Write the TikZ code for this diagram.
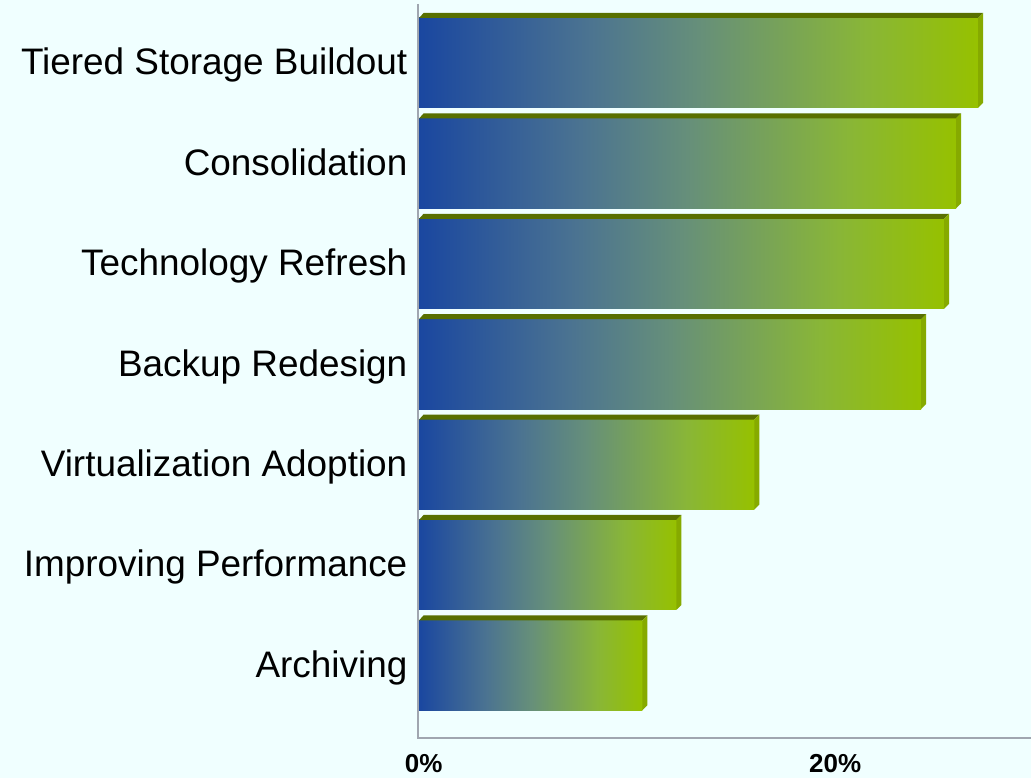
\documentclass[tikz,border=0pt]{standalone}
\usepackage{fontspec}
\setmainfont{Liberation Sans}
\usepackage{tikz}
\usetikzlibrary{positioning, calc}

\definecolor{bgcol}{RGB}{240,255,255}
\definecolor{axiscol}{RGB}{160,166,176}
\definecolor{barblue}{RGB}{26,71,160}
\definecolor{barsteel}{RGB}{75,115,145}
\definecolor{barteal}{RGB}{102,143,122}
\definecolor{barolive}{RGB}{137,182,55}
\definecolor{barlime}{RGB}{150,193,0}
\definecolor{bartopcol}{RGB}{88,112,0}
\definecolor{barsidecol}{RGB}{134,170,0}

% blue to lime, left to right
\pgfdeclarehorizontalshading{barshade}{100bp}{%
  color(0bp)=(barblue); color(25bp)=(barblue); color(40bp)=(barsteel);
  color(50bp)=(barteal); color(65bp)=(barolive); color(75bp)=(barlime);
  color(100bp)=(barlime)}

\tikzset{
  barfront/.style={shading=barshade, shading angle=0},
  bartop/.style={fill=bartopcol},
  barside/.style={fill=barsidecol},
  catlabel/.style={anchor=base east, inner sep=0pt, font=\fontsize{27.7}{32}\selectfont},
  pctlabel/.style={anchor=base, inner sep=0pt, font=\bfseries\fontsize{19.5}{23}\selectfont},
}

\begin{document}
\begin{tikzpicture}[x=0.75pt, y=0.75pt]
% background
\fill[bgcol] (-418,-40) rectangle (614,739);

% Tiered Storage Buildout
\shade[barfront] (1.5,631) rectangle (561,721);
\fill[bartop] (1.5,721) -- (6,726) -- (566,726) -- (561,721) -- cycle;
\fill[barside] (561,721) -- (566,726) -- (566,636) -- (561,631) -- cycle;
\node[catlabel] (lbl1) at (-10,664) {Tiered Storage Buildout};

% Consolidation
\shade[barfront] (1.5,530.5) rectangle (539,620.5);
\fill[bartop] (1.5,620.5) -- (6,625.5) -- (544,625.5) -- (539,620.5) -- cycle;
\fill[barside] (539,620.5) -- (544,625.5) -- (544,535.5) -- (539,530.5) -- cycle;
\node[catlabel] (lbl2) at (-10,563.5) {Consolidation};

% Technology Refresh
\shade[barfront] (1.5,430) rectangle (527,520);
\fill[bartop] (1.5,520) -- (6,525) -- (532,525) -- (527,520) -- cycle;
\fill[barside] (527,520) -- (532,525) -- (532,435) -- (527,430) -- cycle;
\node[catlabel] (lbl3) at (-10,463) {Technology Refresh};

% Backup Redesign
\shade[barfront] (1.5,329.5) rectangle (504,419.5);
\fill[bartop] (1.5,419.5) -- (6,424.5) -- (509,424.5) -- (504,419.5) -- cycle;
\fill[barside] (504,419.5) -- (509,424.5) -- (509,334.5) -- (504,329.5) -- cycle;
\node[catlabel] (lbl4) at (-10,362.5) {Backup Redesign};

% Virtualization Adoption
\shade[barfront] (1.5,229) rectangle (337,319);
\fill[bartop] (1.5,319) -- (6,324) -- (342,324) -- (337,319) -- cycle;
\fill[barside] (337,319) -- (342,324) -- (342,234) -- (337,229) -- cycle;
\node[catlabel] (lbl5) at (-10,262) {Virtualization Adoption};

% Improving Performance
\shade[barfront] (1.5,128.5) rectangle (259,218.5);
\fill[bartop] (1.5,218.5) -- (6,223.5) -- (264,223.5) -- (259,218.5) -- cycle;
\fill[barside] (259,218.5) -- (264,223.5) -- (264,133.5) -- (259,128.5) -- cycle;
\node[catlabel] (lbl6) at (-10,161.5) {Improving Performance};

% Archiving
\shade[barfront] (1.5,28) rectangle (225,118);
\fill[bartop] (1.5,118) -- (6,123) -- (230,123) -- (225,118) -- cycle;
\fill[barside] (225,118) -- (230,123) -- (230,33) -- (225,28) -- cycle;
\node[catlabel] (lbl7) at (-10,61) {Archiving};

% Axes
\draw[axiscol, line width=1.5pt] (0,735) -- (0,0) -- (614,0);
\node[pctlabel] (pct0) at (6,-34.5) {0\%};
\node[pctlabel] (pct20) at (418,-34.5) {20\%};
\end{tikzpicture}
\end{document}
